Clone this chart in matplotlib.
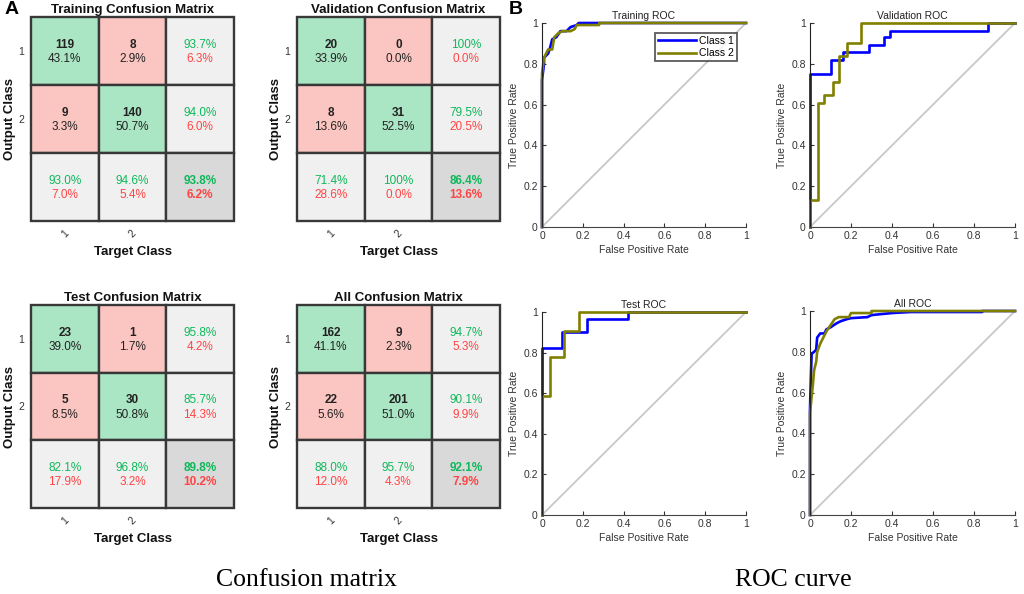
import matplotlib
matplotlib.use('Agg')
import matplotlib.pyplot as plt
from matplotlib.patches import Rectangle
import numpy as np

plt.rcParams['font.family'] = ['Liberation Sans', 'DejaVu Sans']

# ---------------- data ----------------
cm_titles = ['Training Confusion Matrix', 'Validation Confusion Matrix',
             'Test Confusion Matrix', 'All Confusion Matrix']
train_counts = [[119, 8], [9, 140]]
val_counts = [[20, 0], [8, 31]]
test_counts = [[23, 1], [5, 30]]
all_counts = [[162, 9], [22, 201]]
class_labels = ['1', '2']

roc_titles = ['Training ROC', 'Validation ROC', 'Test ROC', 'All ROC']
series_names = ['Class 1', 'Class 2']

train_fpr1 = [0, 0, 0.01, 0.01, 0.02, 0.03, 0.04, 0.05, 0.07, 0.09, 0.12, 0.14, 0.17, 0.18, 1]
train_tpr1 = [0, 0.72, 0.80, 0.83, 0.84, 0.85, 0.88, 0.92, 0.93, 0.96, 0.96, 0.98, 0.99, 1.0, 1.0]
train_fpr2 = [0, 0, 0.01, 0.02, 0.03, 0.05, 0.06, 0.08, 0.10, 0.14, 0.16, 0.17, 0.28, 0.28, 1]
train_tpr2 = [0, 0.75, 0.83, 0.85, 0.87, 0.87, 0.93, 0.95, 0.96, 0.96, 0.97, 0.99, 0.99, 1.0, 1.0]

val_fpr1 = [0, 0, 0.10, 0.10, 0.16, 0.16, 0.29, 0.29, 0.36, 0.36, 0.39, 0.39, 0.87, 0.87, 1]
val_tpr1 = [0, 0.75, 0.75, 0.82, 0.82, 0.86, 0.86, 0.89, 0.89, 0.93, 0.93, 0.96, 0.96, 1.0, 1.0]
val_fpr2 = [0, 0, 0.04, 0.04, 0.07, 0.07, 0.11, 0.11, 0.14, 0.14, 0.18, 0.18, 0.25, 0.25, 1]
val_tpr2 = [0, 0.13, 0.13, 0.61, 0.61, 0.645, 0.645, 0.71, 0.71, 0.84, 0.84, 0.90, 0.90, 1.0, 1.0]

test_fpr1 = [0, 0, 0.10, 0.10, 0.22, 0.22, 0.42, 0.42, 1]
test_tpr1 = [0, 0.825, 0.825, 0.90, 0.90, 0.965, 0.965, 1.0, 1.0]
test_fpr2 = [0, 0, 0.04, 0.04, 0.11, 0.11, 0.18, 0.18, 1]
test_tpr2 = [0, 0.585, 0.585, 0.78, 0.78, 0.905, 0.905, 1.0, 1.0]

all_fpr1 = [0, 0, 0.005, 0.008, 0.02, 0.03, 0.035, 0.05, 0.07, 0.08, 0.10, 0.13, 0.15, 0.18, 0.20, 0.28, 0.30, 0.40, 0.49, 0.84, 0.84, 1]
all_tpr1 = [0, 0.52, 0.70, 0.79, 0.80, 0.81, 0.87, 0.89, 0.89, 0.91, 0.92, 0.94, 0.95, 0.96, 0.965, 0.97, 0.98, 0.99, 0.995, 0.995, 1.0, 1.0]
all_fpr2 = [0, 0, 0.01, 0.015, 0.02, 0.03, 0.035, 0.05, 0.06, 0.07, 0.08, 0.10, 0.12, 0.14, 0.19, 0.20, 0.30, 0.30, 1]
all_tpr2 = [0, 0.50, 0.60, 0.65, 0.71, 0.75, 0.80, 0.84, 0.86, 0.88, 0.90, 0.93, 0.96, 0.97, 0.97, 0.99, 0.99, 1.0, 1.0]

captions = ['Confusion matrix', 'ROC curve']

# ---------------- style ----------------
W, H = 1024, 594
fig = plt.figure(figsize=(W / 100, H / 100), dpi=100)

GREEN = '#abe6c4'
RED = '#fbc6c1'
LIGHT = '#f0f0f0'
DARK = '#d9d9d9'
TGREEN = '#0fb85a'
TRED = '#ff4444'
EDGE = '#383838'


def ax_px(l, t, r, b):
    return fig.add_axes([l / W, 1 - b / H, (r - l) / W, (b - t) / H])


def fmt(p):
    return '100%' if abs(p - 100) < 1e-9 else f'{p:.1f}%'


def draw_cm(rect, title, counts):
    ax = ax_px(*rect)
    c = np.array(counts, dtype=float)
    n = c.sum()
    ax.set_xlim(0, 3)
    ax.set_ylim(3, 0)
    for i in range(3):
        for j in range(3):
            if i < 2 and j < 2:
                fc = GREEN if i == j else RED
            elif i == 2 and j == 2:
                fc = DARK
            else:
                fc = LIGHT
            ax.add_patch(Rectangle((j, i), 1, 1, facecolor=fc, edgecolor=EDGE,
                                   lw=1.7, clip_on=False))
    y1, y2 = 0.41, 0.62
    fs = 8.5
    for i in range(2):
        for j in range(2):
            ax.text(j + 0.5, i + y1, f'{int(c[i, j])}', ha='center', va='center',
                    fontsize=fs, fontweight='bold', color='#222222')
            ax.text(j + 0.5, i + y2, fmt(100 * c[i, j] / n), ha='center', va='center',
                    fontsize=fs, color='#222222')
    for i in range(2):
        p = 100 * c[i, i] / c[i].sum()
        ax.text(2.5, i + y1, fmt(p), ha='center', va='center', fontsize=fs, color=TGREEN)
        ax.text(2.5, i + y2, fmt(100 - p), ha='center', va='center', fontsize=fs, color=TRED)
    for j in range(2):
        p = 100 * c[j, j] / c[:, j].sum()
        ax.text(j + 0.5, 2 + y1, fmt(p), ha='center', va='center', fontsize=fs, color=TGREEN)
        ax.text(j + 0.5, 2 + y2, fmt(100 - p), ha='center', va='center', fontsize=fs, color=TRED)
    p = 100 * np.trace(c) / n
    ax.text(2.5, 2 + y1, fmt(p), ha='center', va='center', fontsize=fs,
            fontweight='bold', color=TGREEN)
    ax.text(2.5, 2 + y2, fmt(100 - p), ha='center', va='center', fontsize=fs,
            fontweight='bold', color=TRED)
    ax.set_xticks([0.5, 1.5])
    ax.set_xticklabels(class_labels, rotation=45, fontsize=7.5, color='#333333')
    ax.set_yticks([0.5, 1.5])
    ax.set_yticklabels(class_labels, fontsize=7.5, color='#333333')
    ax.tick_params(axis='x', length=0, pad=5)
    ax.tick_params(axis='y', length=0, pad=5)
    for s in ax.spines.values():
        s.set_visible(False)
    ax.set_title(title, fontsize=9.5, fontweight='bold', pad=3, color='#111111')
    ax.set_xlabel('Target Class', fontsize=9.5, fontweight='bold', labelpad=5, color='#111111')
    ax.set_ylabel('Output Class', fontsize=9.5, fontweight='bold', color='#111111')
    ax.yaxis.set_label_coords(-15 / 203, 0.5)
    return ax


def draw_roc(rect, title, f1, t1, f2, t2, legend=False):
    ax = ax_px(*rect)
    ax.plot([0, 1], [0, 1], color='#c8c8c8', lw=1.3, clip_on=False)
    ax.plot(f1, t1, color='#0000ff', lw=1.9, label=series_names[0], clip_on=False)
    ax.plot(f2, t2, color='#808000', lw=1.9, label=series_names[1], clip_on=False)
    ax.set_xlim(0, 1)
    ax.set_ylim(0, 1)
    ticks = [0, 0.2, 0.4, 0.6, 0.8, 1]
    labels = ['0', '0.2', '0.4', '0.6', '0.8', '1']
    ax.set_xticks(ticks)
    ax.set_xticklabels(labels)
    ax.set_yticks(ticks)
    ax.set_yticklabels(labels)
    ax.tick_params(direction='in', length=3, labelsize=7.5, colors='#333333', pad=3)
    ax.spines['top'].set_visible(False)
    ax.spines['right'].set_visible(False)
    ax.spines['left'].set_color('#222222')
    ax.spines['bottom'].set_color('#444444')
    ax.set_title(title, fontsize=7.5, pad=3, color='#222222')
    ax.set_xlabel('False Positive Rate', fontsize=7.5, labelpad=3, color='#333333')
    ax.set_ylabel('True Positive Rate', fontsize=7.5, labelpad=3, color='#333333')
    if legend:
        lg = ax.legend(loc='upper right', bbox_to_anchor=(0.956, 0.951), borderaxespad=0,
                       fontsize=7.5, frameon=True, fancybox=False, handlelength=3.6,
                       handletextpad=0.3, borderpad=0.3, labelspacing=0.2)
        lg.get_frame().set_edgecolor('#333333')
        lg.get_frame().set_linewidth(1.3)
    return ax


draw_cm((31, 17, 234, 221), cm_titles[0], train_counts)
draw_cm((297, 17, 500, 221), cm_titles[1], val_counts)
draw_cm((31, 305, 234, 508), cm_titles[2], test_counts)
draw_cm((297, 305, 500, 508), cm_titles[3], all_counts)

draw_roc((542, 23, 746, 227), roc_titles[0], train_fpr1, train_tpr1, train_fpr2, train_tpr2, legend=True)
draw_roc((810, 23, 1015, 227), roc_titles[1], val_fpr1, val_tpr1, val_fpr2, val_tpr2)
draw_roc((542, 312, 746, 515), roc_titles[2], test_fpr1, test_tpr1, test_fpr2, test_tpr2)
draw_roc((810, 311, 1015, 515), roc_titles[3], all_fpr1, all_tpr1, all_fpr2, all_tpr2)

fig.text(12 / W, 1 - 10 / H, 'A', fontsize=14, fontweight='bold', ha='center', va='center')
fig.text(516 / W, 1 - 10 / H, 'B', fontsize=14, fontweight='bold', ha='center', va='center')

fig.text(306 / W, 1 - 580 / H, captions[0], family='Liberation Serif', fontsize=18.5,
         ha='center', va='center')
fig.text(793 / W, 1 - 580 / H, captions[1], family='Liberation Serif', fontsize=18.5,
         ha='center', va='center')

fig.savefig('out.png', dpi=100, facecolor='white')
